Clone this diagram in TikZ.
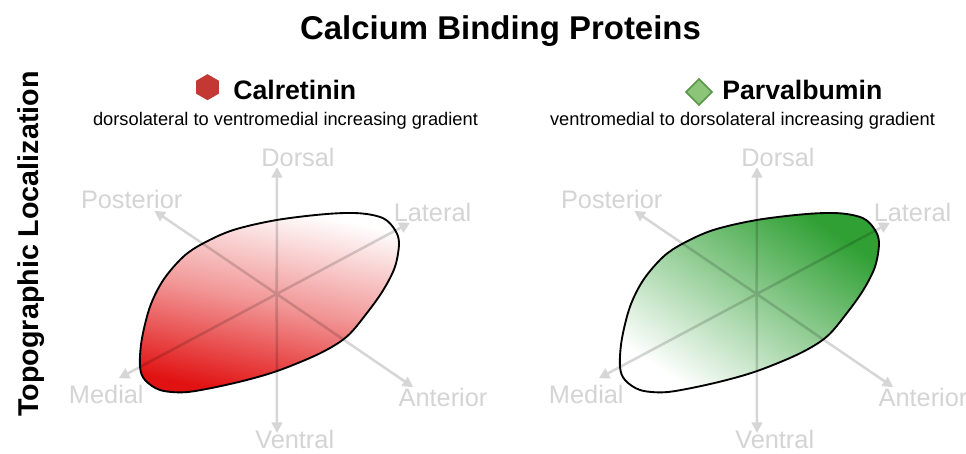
\documentclass[tikz,border=0pt]{standalone}
\usepackage{fontspec}
\setmainfont{Liberation Sans}
\usetikzlibrary{arrows.meta}
\definecolor{redD}{RGB}{225,18,18}
\definecolor{greenD}{RGB}{48,160,52}
\definecolor{hexred}{RGB}{195,56,50}
\definecolor{dfill}{RGB}{140,196,120}
\definecolor{dline}{RGB}{88,150,72}
\definecolor{axlabel}{RGB}{212,212,212}
\tikzset{
  axisline/.style={draw=black, line width=1.9pt,
    -{Triangle[length=8pt,width=8pt]}},
  axlab/.style={text=axlabel, font=\fontsize{19}{22}\selectfont, anchor=base, inner sep=0pt},
  blob/.style={draw=black, line width=1.4pt},
  titlestyle/.style={font=\fontsize{24.7}{28}\selectfont\bfseries, anchor=base, inner sep=0pt},
  headstyle/.style={font=\fontsize{20}{24}\selectfont\bfseries, anchor=base west, inner sep=0pt},
  substyle/.style={font=\fontsize{13.7}{16}\selectfont, anchor=base, inner sep=0pt}
}
\newcommand{\blobpath}{plot[smooth cycle, tension=0.55] coordinates {
(140,366.7) (141.7,340) (150,306.7) (163.3,280) (183.3,256.7) (203.3,243.3)
(233.3,230) (276.7,220) (326.7,214) (360,213.3) (383.3,218.3) (395,230)
(399,243.3) (395,266.7) (383.3,290) (366.7,313.3) (346.7,336.7) (320,353.3)
(280,370) (246.7,380) (210,388.3) (183.3,392.3) (160,390) (145,380)}}
\newcommand{\axesset}[1]{%
  \coordinate (#1c) at (276.7,294);
  \coordinate (#1d) at (277,167);
  \coordinate (#1v) at (277,433);
  \coordinate (#1p) at (154.3,210.7);
  \coordinate (#1a) at (413.3,387.3);
  \coordinate (#1l) at (410,222.7);
  \coordinate (#1m) at (118.7,378.3);
  \begin{scope}[transparency group, opacity=0.16]
  \draw[axisline] (#1c) -- (#1d);
  \draw[axisline] (#1c) -- (#1v);
  \draw[axisline] (#1c) -- (#1p);
  \draw[axisline] (#1c) -- (#1a);
  \draw[axisline] (#1c) -- (#1l);
  \draw[axisline] (#1c) -- (#1m);
  \end{scope}
  \node[axlab] (#1Dorsal) at (298,166.7) {Dorsal};
  \node[axlab] (#1Ventral) at (294.7,448.5) {Ventral};
  \node[axlab] (#1Posterior) at (131.7,208.3) {Posterior};
  \node[axlab] (#1Lateral) at (432.5,221.7) {Lateral};
  \node[axlab] (#1Medial) at (106.3,403.3) {Medial};
  \node[axlab] (#1Anterior) at (443,406.7) {Anterior};
}
\begin{document}
\begin{tikzpicture}[x=0.75pt,y=-0.75pt]
\useasboundingbox (0,0) rectangle (966,453);
\fill[white] (0,0) rectangle (966,453);
\node[titlestyle] (title) at (500.5,39.3) {Calcium Binding Proteins};
\node[font=\fontsize{21.5}{24}\selectfont\bfseries, rotate=90, anchor=base, inner sep=0pt] (ylab) at (38,244) {Topographic Localization};
% left panel
\draw[fill=hexred, draw=none] (207.5,74.2) -- (218.8,80.7) -- (218.8,93.7) -- (207.5,100.2) -- (196.2,93.7) -- (196.2,80.7) -- cycle;
\node[headstyle] (calret) at (233,99.3) {Calretinin};
\node[substyle] (calsub) at (285.5,125.7) {dorsolateral to ventromedial increasing gradient};
\shade[top color=white, bottom color=redD, middle color=redD!44!white, shading angle=-12] \blobpath;
\axesset{L}
\draw[blob] \blobpath;
% right panel
\draw[fill=dfill, draw=dline, line width=1.3pt] (699,79) -- (712,92) -- (699,105) -- (686,92) -- cycle;
\node[headstyle] (parv) at (722,99.3) {Parvalbumin};
\node[substyle] (parvsub) at (742.5,125.7) {ventromedial to dorsolateral increasing gradient};
\begin{scope}[shift={(480,0)}]
\shade[top color=greenD, bottom color=white, shading angle=-34] \blobpath;
\axesset{R}
\draw[blob] \blobpath;
\end{scope}
\end{tikzpicture}
\end{document}
